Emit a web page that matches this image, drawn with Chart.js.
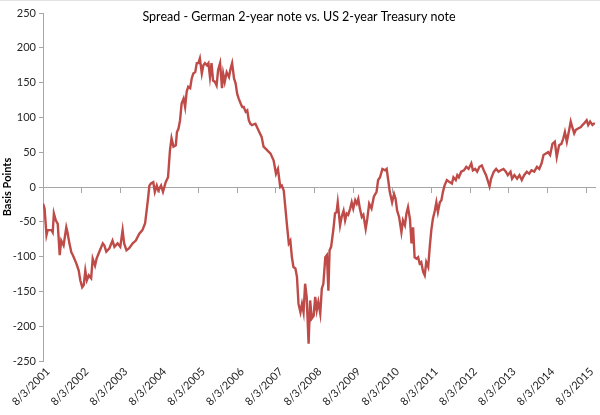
<!DOCTYPE html>
<html>
<head>
<meta charset="utf-8">
<script src="https://cdn.jsdelivr.net/npm/chart.js@4/dist/chart.umd.min.js"></script>
<style>
  html, body { margin: 0; padding: 0; background: #fff; }
  #wrap { width: 600px; height: 415px; }
</style>
</head>
<body>
<div id="wrap"><canvas id="c" width="600" height="415"></canvas></div>
<script>
// Years elapsed since 8/3/2001 for each observation
const yearsSinceStart = [
  0.00,0.04,0.09,0.12,0.22,0.25,0.28,0.33,0.38,0.43,0.47,0.53,0.60,0.63,0.68,0.73,0.77,0.86,0.92,0.96,
  1.01,1.05,1.09,1.13,1.18,1.24,1.28,1.34,1.38,1.45,1.54,1.58,1.63,1.71,1.79,1.84,1.92,1.99,
  2.05,2.09,2.15,2.22,2.31,2.39,2.48,2.56,2.63,2.69,2.71,2.74,2.78,2.84,2.88,2.93,2.97,
  3.04,3.09,3.16,3.22,3.27,3.31,3.36,3.42,3.45,3.49,3.53,3.57,3.62,3.66,3.70,3.74,3.79,3.83,3.87,3.92,3.96,
  4.00,4.04,4.09,4.13,4.17,4.22,4.26,4.30,4.34,4.38,4.43,4.47,4.51,4.56,4.61,4.64,4.68,4.73,4.79,4.83,4.87,4.92,4.96,
  5.00,5.04,5.09,5.13,5.17,5.22,5.26,5.30,5.34,5.38,5.47,5.56,5.63,5.68,5.77,5.86,5.94,
  6.00,6.05,6.11,6.15,6.20,6.24,6.28,6.33,6.37,6.41,6.45,6.50,6.54,6.58,6.63,6.67,6.71,6.75,6.79,6.84,6.88,6.92,6.97,
  7.01,7.05,7.09,7.14,7.18,7.22,7.27,7.31,7.35,7.38,7.42,7.48,7.52,7.56,7.59,7.65,7.69,7.74,7.78,7.82,7.86,7.91,7.95,7.99,
  8.04,8.08,8.12,8.16,8.21,8.25,8.31,8.35,8.40,8.46,8.52,8.59,8.63,8.68,8.74,8.81,8.85,8.89,8.93,8.99,
  9.04,9.08,9.12,9.17,9.23,9.27,9.32,9.36,9.40,9.45,9.49,9.53,9.57,9.62,9.66,9.70,9.74,9.79,9.83,9.87,9.92,9.96,
  10.00,10.04,10.09,10.13,10.17,10.22,10.26,10.30,10.34,10.40,10.47,10.53,10.57,10.63,10.67,10.71,10.77,10.84,10.90,10.96,
  11.03,11.07,11.13,11.18,11.24,11.30,11.35,11.41,11.45,11.50,11.54,11.61,11.67,11.73,11.79,11.86,11.92,11.97,
  12.04,12.08,12.14,12.21,12.27,12.33,12.39,12.46,12.52,12.58,12.65,12.72,12.78,12.84,12.89,12.95,
  13.01,13.06,13.12,13.18,13.23,13.29,13.35,13.40,13.44,13.49,13.55,13.59,13.63,13.68,13.72,13.78,13.85,13.89,13.93,
  14.00,14.04,14.09,14.15,14.21
];

// Spread in basis points
const spread = [
  -24,-31,-69,-62,-62,-65,-38,-48,-53,-98,-77,-84,-58,-65,-81,-94,-98,-110,-120,-134,
  -144,-141,-120,-134,-127,-131,-103,-113,-103,-93,-81,-84,-93,-88,-77,-86,-81,-86,
  -62,-81,-91,-88,-81,-77,-67,-62,-52,-24,-14,2,5,7,-7,2,-5,
  2,-7,7,14,53,70,58,60,79,84,96,120,127,115,137,144,142,156,163,165,178,
  178,185,163,175,178,175,178,158,178,153,151,146,168,178,142,163,151,165,158,170,178,156,149,
  134,127,120,115,115,108,110,96,91,89,91,80,72,58,53,48,38,
  19,26,0,2,-5,-29,-53,-81,-77,-101,-115,-117,-129,-168,-180,-168,-180,-139,-158,-225,-163,-189,-185,
  -158,-177,-165,-182,-146,-139,-101,-98,-149,-91,-86,-60,-38,-36,-22,-55,-43,-34,-48,-38,-40,-31,-22,-31,
  -19,-24,-17,-31,-43,-40,-60,-46,-24,-31,-14,-7,10,14,26,24,26,10,-7,-22,
  -10,-17,-34,-43,-65,-48,-55,-38,-29,-46,-81,-58,-101,-103,-101,-110,-108,-122,-127,-108,-115,-86,
  -62,-46,-34,-22,-36,-22,-19,-7,2,10,7,5,14,10,17,14,22,24,29,26,
  34,24,26,22,29,31,24,17,10,1,12,22,26,22,24,26,22,17,
  22,12,17,12,17,10,17,22,19,24,22,29,26,34,46,48,
  50,46,62,65,43,60,62,70,79,65,82,94,86,77,82,84,86,89,91,
  96,89,94,89,92
];

const tickYears = [0,1,2,3,4,5,6,7,8,9,10,11,12,13,14];
const tickLabels = ['8/3/2001','8/3/2002','8/3/2003','8/3/2004','8/3/2005','8/3/2006','8/3/2007',
  '8/3/2008','8/3/2009','8/3/2010','8/3/2011','8/3/2012','8/3/2013','8/3/2014','8/3/2015'];
const yMin = -250, yMax = 250, yStep = 50;
const xMax = 14.22;
const chartTitle = 'Spread - German 2-year note vs. US 2-year Treasury note';
const yTitle = 'Basis Points';

const points = yearsSinceStart.map((t, i) => ({ x: t, y: spread[i] }));
const axisGray = '#a6a6a6';
const textColor = '#262626';
const fontFam = 'Lato, "Open Sans", sans-serif';

const titlePlugin = {
  id: 'innerTitle',
  beforeDraw(chart) {
    const ctx = chart.ctx;
    ctx.save();
    ctx.strokeStyle = '#e3e3e3';
    ctx.lineWidth = 1;
    ctx.beginPath();
    ctx.moveTo(0, 0.5); ctx.lineTo(600, 0.5);
    ctx.stroke();
    ctx.restore();
  },
  afterDraw(chart) {
    const ctx = chart.ctx;
    ctx.save();
    ctx.font = '12.5px ' + fontFam;
    ctx.fillStyle = '#000';
    ctx.textAlign = 'center';
    ctx.textBaseline = 'middle';
    ctx.fillText(chartTitle, 299, 17);
    ctx.restore();
  }
};

function setTicks(scale) {
  scale.ticks = tickYears.map(v => ({ value: v }));
}

new Chart(document.getElementById('c'), {
  type: 'line',
  data: {
    datasets: [{
      data: points,
      borderColor: '#be4b48',
      borderWidth: 2.4,
      pointRadius: 0,
      tension: 0,
      fill: false
    }]
  },
  options: {
    responsive: false,
    animation: false,
    devicePixelRatio: 1,
    layout: { padding: { top: 13, right: 2, left: 0, bottom: 0 } },
    plugins: { legend: { display: false }, tooltip: { enabled: false }, title: { display: false } },
    scales: {
      x: {
        type: 'linear',
        position: { y: 0 },
        min: 0, max: xMax,
        afterBuildTicks: setTicks,
        ticks: { display: false },
        grid: { display: true, drawOnChartArea: false, drawTicks: true, tickLength: 5, color: axisGray, lineWidth: 1 },
        border: { display: true, color: axisGray, width: 1 }
      },
      x2: {
        type: 'linear',
        axis: 'x',
        position: 'bottom',
        min: 0, max: xMax,
        afterBuildTicks: setTicks,
        afterFit(scale) { scale.height = 54; },
        ticks: {
          autoSkip: false,
          maxRotation: 45, minRotation: 45,
          padding: 4,
          labelOffset: 5,
          color: textColor,
          font: { family: fontFam, size: 11 },
          callback: (v, i) => tickLabels[i]
        },
        grid: { display: false, drawTicks: false },
        border: { display: false }
      },
      y: {
        type: 'linear',
        min: yMin, max: yMax,
        afterFit(scale) { scale.width = 43; },
        ticks: { stepSize: yStep, padding: 3, color: textColor, font: { family: fontFam, size: 11 } },
        grid: { drawOnChartArea: false, drawTicks: true, tickLength: 4, color: axisGray },
        border: { display: true, color: axisGray, width: 1 },
        title: { display: true, text: yTitle, color: '#000', font: { family: fontFam, size: 11, weight: 'bold' }, padding: { top: 1, bottom: 0 } }
      }
    }
  },
  plugins: [titlePlugin]
});
</script>
</body>
</html>
